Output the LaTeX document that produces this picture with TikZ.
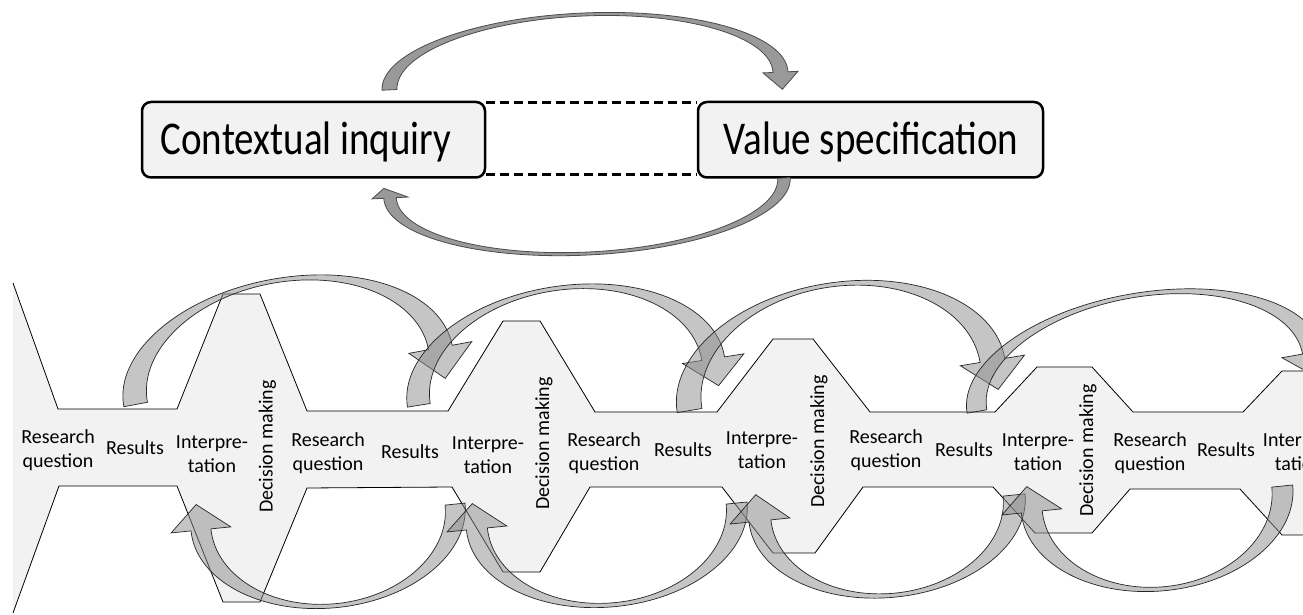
\documentclass[tikz,border=0pt]{standalone}
\usepackage{fontspec}
\setmainfont{Carlito}
\newfontfamily\boxfont[FakeStretch=0.83]{Carlito}
\newcommand\carrow[4]{%
  \begin{scope}[shift={#2},rotate=#3]
  \foreach \aO/\bO/\aI/\bI/\aS/\aH/\aT/\aW in {#4}{%
    \pgfmathsetmacro\aC{(\aO+\aI)/2}%
    \pgfmathsetmacro\bC{(\bO+\bI)/2}%
    \pgfmathsetmacro\rWo{\aC+\aW}%
    \pgfmathsetmacro\rWi{\aC-\aW}%
    \pgfmathsetmacro\rT{\aC+8}%
    \draw[#1] (\aS:{\aO} and {\bO}) arc[start angle=\aS, end angle=\aH, x radius=\aO, y radius=\bO]
      -- (\aH:{\rWo} and {\bC}) -- (\aT:{\rT} and {\bC}) -- (\aH:{\rWi} and {\bC}) -- (\aH:{\aI} and {\bI})
      arc[start angle=\aH, end angle=\aS, x radius=\aI, y radius=\bI] -- cycle;
  }%
  \end{scope}}
\begin{document}
\begin{tikzpicture}[x=1pt,y=1pt,
  box/.style={draw=black, line width=2.5pt, fill=black!5, rounded corners=9pt, minimum height=75.5pt, inner sep=0pt},
  boxtxt/.style={font=\boxfont\fontsize{47}{50}\selectfont, anchor=base, inner sep=0pt},
  lbl/.style={font=\fontsize{20}{24}\selectfont, align=center, inner sep=0pt},
  dmlbl/.style={lbl, rotate=90},
  band/.style={draw=black, line width=0.8pt, line join=miter},
  barrow/.style={draw=black!85, line width=0.7pt, fill=black!45, fill opacity=0.5},
  tarrow/.style={draw=black!70, line width=0.8pt, fill=black!40},
  dashline/.style={line width=2.5pt, dash pattern=on 9pt off 5pt}
]
\useasboundingbox (0,0) rectangle (1303,615);
\fill[white] (0,0) rectangle (1303,615);
\clip (0,0) rectangle (1303,615);

% ---------- top part ----------
\node[box, minimum width=343pt] (ci) at (313.5,615-139.75) {};
\node[box, minimum width=345pt] (vs) at (870.5,615-139.75) {};
\node[boxtxt] (citxt) at (306,615-155) {Contextual inquiry};
\node[boxtxt] (vstxt) at (871,615-155) {Value specification};
\draw[dashline] ([yshift=-2pt]ci.north east) -- ([yshift=-2pt]vs.north west);
\draw[dashline] ([yshift=4pt]ci.south east) -- ([yshift=4pt]vs.south west);

\carrow{tarrow}{(585,615-81)}{2.6}{203.2/68/188.2/65/180/0/-15/17.5}
\carrow{tarrow}{(587,615-188)}{2.9}{203.5/67/191/64/0/-180/-188.7/18}

% ---------- band ----------
\begin{scope}[shift={(0,615)},yscale=-1]
\fill[black!5] (13,283) -- (58,409) -- (177,409) -- (223,294) -- (260,294) -- (307,411)
  -- (448,411) -- (503,321) -- (540,321) -- (595,412) -- (717,412) -- (773,339) -- (813,339)
  -- (870,412) -- (995,412) -- (1037,367) -- (1092,367) -- (1133,412) -- (1243,412)
  -- (1282,371) -- (1310,371) -- (1310,535) -- (1282,535) -- (1240,489) -- (1130,489)
  -- (1092,533) -- (1035,533) -- (993,487) -- (863,487) -- (815,553) -- (773,553)
  -- (722,487) -- (590,487) -- (540,572) -- (503,572) -- (452,487) -- (307,488)
  -- (260,602) -- (223,602) -- (177,486) -- (59,486) -- (13,613) -- cycle;
\draw[band] (13,283) -- (58,409) -- (177,409) -- (223,294) -- (260,294) -- (307,411)
  -- (448,411) -- (503,321) -- (540,321) -- (595,412) -- (717,412) -- (773,339) -- (813,339)
  -- (870,412) -- (995,412) -- (1037,367) -- (1092,367) -- (1133,412) -- (1243,412)
  -- (1282,371) -- (1310,371) -- (1310,535) -- (1282,535) -- (1240,489) -- (1130,489)
  -- (1092,533) -- (1035,533) -- (993,487) -- (863,487) -- (815,553) -- (773,553)
  -- (722,487) -- (590,487) -- (540,572) -- (503,572) -- (452,487) -- (307,488)
  -- (260,602) -- (223,602) -- (177,486) -- (59,486) -- (13,613);
\end{scope}

% ---------- arrows of the bottom part ----------
\carrow{barrow}{(288,615-376)}{10.6}{167/98/143/94/180/0/-19/32}
\carrow{barrow}{(566,615-382)}{9.0}{160.5/96/137.5/92/180/0/-17/31}
\carrow{barrow}{(841,615-385.5)}{9.4}{166/103/141/99/180/0/-17/32.5}
\carrow{barrow}{(1144.7,615-381.9)}{10}{180.3/89/160.3/85/180/0/-17/31}
\carrow{barrow}{(328,615-517)}{5.8}{137.7/91/117.7/87/0/-180/-196.8/30}
\carrow{barrow}{(606.75,615-516)}{5.7}{141/91/120/87/0/-180/-196.8/30}
\carrow{barrow}{(887,615-508)}{5.85}{138.7/89.5/116.7/85.5/0/-180/-197.7/30}
\carrow{barrow}{(1157,615-499)}{5.9}{136.4/92/115.4/88/0/-180/-196.6/30}

% ---------- labels ----------
\node[lbl] (rq1) at (58,615-450) {Research\\question};
\node[lbl] (rs1) at (135,615-447.5) {Results};
\node[lbl] (in1) at (212,615-454) {Interpre-\\tation};
\node[dmlbl] (dm1) at (267.5,615-446.5) {Decision making};
\node[lbl] (rq2) at (328,615-453.5) {Research\\question};
\node[lbl] (rs2) at (410,615-451.5) {Results};
\node[lbl] (in2) at (488,615-455) {Interpre-\\tation};
\node[dmlbl] (dm2) at (544,615-443.5) {Decision making};
\node[lbl] (rq3) at (604,615-453.5) {Research\\question};
\node[lbl] (rs3) at (683,615-450) {Results};
\node[lbl] (in3) at (762,615-450) {Interpre-\\tation};
\node[dmlbl] (dm3) at (819,615-441.5) {Decision making};
\node[lbl] (rq4) at (886,615-450) {Research\\question};
\node[lbl] (rs4) at (964,615-450) {Results};
\node[lbl] (in4) at (1038,615-452) {Interpre-\\tation};
\node[dmlbl] (dm4) at (1088,615-450.5) {Decision making};
\node[lbl] (rq5) at (1150,615-453) {Research\\question};
\node[lbl] (rs5) at (1226,615-450) {Results};
\node[lbl] (in5) at (1299,615-452) {Interpre-\\tation};
\end{tikzpicture}
\end{document}
